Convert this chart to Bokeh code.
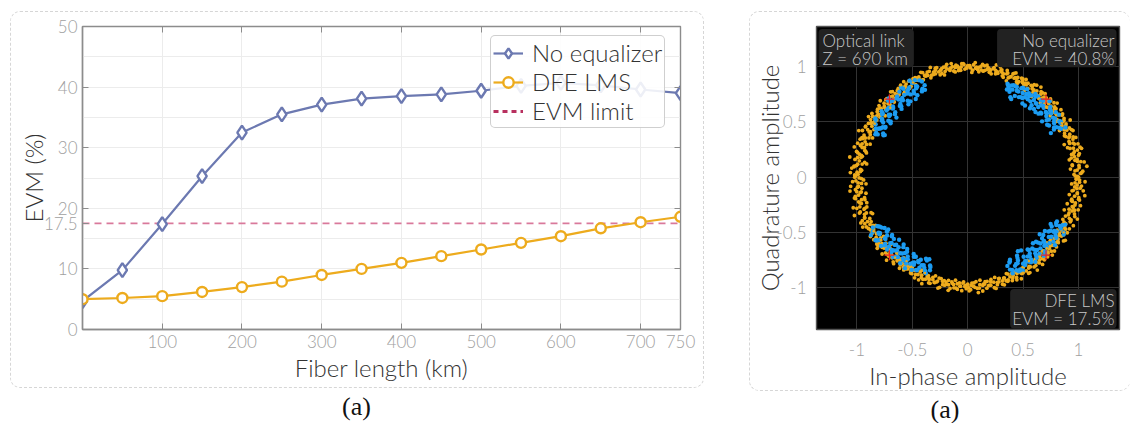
import math
from bokeh.plotting import figure
from bokeh.layouts import row, column
from bokeh.embed import file_html
from bokeh.resources import INLINE
from bokeh.models import (FixedTicker, LinearAxis, Legend, LegendItem, BoxAnnotation, Label, Range1d, Div)

FONT = "Lato Light, Lato"
fiber_km = [0, 50, 100, 150, 200, 250, 300, 350, 400, 450, 500, 550, 600, 650, 700, 750]
evm_none = [4.7, 9.8, 17.4, 25.3, 32.5, 35.5, 37.1, 38.1, 38.5, 38.8, 39.4, 40.2, 40.7, 40.3, 39.6, 39.0]
evm_dfe = [5.0, 5.2, 5.5, 6.2, 7.0, 7.9, 9.0, 10.0, 11.0, 12.1, 13.2, 14.3, 15.4, 16.7, 17.7, 18.6]
evm_limit = [17.5, 17.5]
limit_x = [0, 750]
x_ticks = [100, 200, 300, 400, 500, 600, 700, 750]
y_ticks = [0, 10, 17.5, 20, 30, 40, 50]
y_grid = [5, 10, 15, 20, 25, 30, 35, 40, 45]

# Estimated radius (hundredths of unit amplitude) of the received points, 1.5 degrees apart
orange_r1 = [100,96,104,93,101,106,98,95,103,99,105,94,100,97,102,96,104,99,93,101,
 98,102,96,100,104,97,101,99,95,103,98,100,96,102,105,97,99,101,94,100,
 99,102,97,100,103,98,101,96,100,104,97,102,99,101,98,103,96,100,102,99,
 101,98,103,99,102,97,100,104,98,101,96,103,100,98,102,99,104,97,101,100,
 99,102,96,100,103,95,101,98,104,97,100,102,94,99,103,98,101,96,100,105,
 97,102,95,100,104,93,99,103,96,101,106,94,100,98,103,92,101,105,97,99,
 102,94,99,106,96,101,93,104,98,100,107,95,102,97,92,103,99,105,96,100,
 98,103,94,100,97,102,95,99,104,96,101,93,98,103,97,100,94,102,99,96,
 101,96,99,103,95,100,98,102,94,99,104,97,100,95,102,98,101,96,103,99,
 97,102,99,95,101,104,98,96,100,103,94,99,102,97,101,95,100,103,98,96,
 100,96,103,98,94,101,99,104,97,95,102,100,96,103,98,94,101,99,105,97,
 100,95,103,98,94,101,106,97,99,104,93,100,96,102,107,95,99,103,97,101]
orange_r2 = [97,103,99,108,95,100,93,102,98,106,96,101,92,104,99,95,103,97,100,106,
 101,95,103,98,93,100,105,96,102,99,94,103,100,97,93,104,101,96,99,103,
 102,96,100,104,99,94,103,97,101,99,105,96,100,103,97,101,98,104,95,101,
 99,103,97,101,96,104,99,102,95,100,103,98,105,96,100,103,97,99,102,96,
 102,97,104,99,94,101,97,103,100,95,102,98,105,96,101,93,99,104,97,102,
 100,94,103,98,107,96,101,93,104,99,95,102,97,108,94,100,103,96,106,101,
 96,104,92,100,107,98,103,95,101,94,104,98,108,93,100,105,96,102,94,99,
 101,95,102,93,100,104,97,92,101,98,105,94,102,96,93,103,98,100,96,101,
 97,103,94,100,105,96,102,98,100,95,103,96,99,104,97,94,102,99,95,101,
 103,96,100,105,94,98,102,100,95,104,99,96,103,100,94,102,98,96,104,100,
 96,103,99,93,105,97,101,95,102,100,96,104,98,93,102,99,96,104,100,94,
 103,99,96,105,101,95,103,92,101,98,105,96,102,93,100,105,97,94,106,98]
orange_r3 = [99,102,97,101,95,103,100,98,96,102,99,104,97,101,98,100,96,102,99,97,
 100,97,102,99,98,101,97,103,99,96,101,98,102,97,100,99,103,97,101,98,
 100,98,101,99,102,97,100,99,102,98,100,101,97,99,102,98,100,99,97,101,
 99,102,100,97,100,101,98,100,102,97,99,101,98,102,99,100,97,101,99,102,
 100,97,101,99,96,102,98,100,97,101,99,96,101,98,100,102,97,99,102,98,
 100,98,103,97,96,101,102,98,100,97,96,103,98,101,99,96,103,97,100,102,
 98,101,96,99,102,97,100,103,95,99,101,97,103,99,100,96,102,98,101,97,
 100,97,99,96,102,98,100,97,95,101,98,100,96,99,95,98,100,97,96,99,
 97,100,96,98,101,97,99,96,100,98,95,100,97,99,96,101,97,99,96,98,
 100,98,96,101,98,99,96,100,97,98,101,96,99,97,100,98,96,101,97,99,
 97,100,95,99,101,97,96,99,100,98,95,99,101,97,99,96,100,97,98,101,
 97,100,98,96,101,99,97,102,96,99,100,97,103,98,100,96,102,99,101,98]
blue_ur = [99,94,90,97,93,100,88,95,92,98,86,94,90,96,84,92,97,89,94,87,91,95,85,93,89,92,87,
 95,89,97,92,86,94,99,90,96,88,93,85,97,91,87,95,83,92,89,96,86,94,90,82,93,88,91,85,
 92,98,87,95,90,84,96,92,88,101,93,86,91,97,89,94,83,92,87,95,90,81,93,86,89,92,88,84]
blue_ul = [92,98,88,95,102,90,96,93,86,99,91,94,88,97,100,92,87,95,90,96,85,93,98,89,91,86,92,
 96,90,100,93,87,97,91,99,94,85,92,96,89,101,93,88,95,90,98,86,94,91,87,96,92,84,90,88,
 89,94,99,92,85,95,101,88,93,97,90,86,98,92,95,84,91,96,88,93,99,87,90,94,85,92,89,95]
blue_ll = [97,91,102,94,88,98,93,100,87,95,90,97,92,86,96,89,99,93,85,94,91,88,96,90,84,93,87,
 93,99,88,95,101,90,86,96,92,98,89,94,84,97,91,87,95,92,100,86,93,89,96,83,91,94,88,92,
 90,95,86,100,93,87,97,91,84,95,89,99,92,85,94,90,96,87,92,98,86,93,89,82,95,91,86,93]
blue_lr = [88,93,84,97,90,86,95,92,82,94,89,96,87,91,99,85,93,90,95,86,92,97,89,94,100,91,96,
 92,86,95,90,98,84,93,88,96,91,85,94,89,99,92,87,95,90,83,97,93,88,92,101,86,94,90,96,
 85,91,96,88,93,81,94,90,98,86,92,95,84,97,89,93,87,100,91,85,95,92,88,96,90,98,87,93]
# Start angle (degrees) of each blue arc, points 1.5 degrees apart, three passes per arc
blue_start = [27, 115, 208, 294]
ideal_points = [0.707, -0.707]

ORANGE = "#edab1d"
BLUE = "#6c79b1"
SKY = "#1c9cf2"
PANEL = "#d6d6d6"
PANEL_CSS = {"border": f"1px dashed {PANEL}", "border-radius": "10px", "box-sizing": "border-box"}


def polar(radii, start, step):
    a = [math.radians(start + i * step) for i in range(len(radii))]
    return ([r / 100 * math.cos(t) for r, t in zip(radii, a)],
            [r / 100 * math.sin(t) for r, t in zip(radii, a)])


def caption(width, pad, margin):
    return Div(text="(a)", width=width, height=30, margin=margin,
               styles={"font-family": "Liberation Serif", "font-size": "26px", "color": "#111111",
                       "text-align": "center", "padding-left": f"{pad}px", "box-sizing": "border-box"})


# ---------- left chart ----------
p1 = figure(frame_width=596, frame_height=301, min_border_left=71, min_border_right=25,
            min_border_top=14, min_border_bottom=60, output_backend="svg", toolbar_location=None,
            x_range=Range1d(0, 750), y_range=Range1d(0, 50), background_fill_color="white",
            border_fill_color=None, outline_line_color="#8c8c8c", outline_line_width=1.4,
            margin=(11, 0, 0, 10), styles=PANEL_CSS)
p1.xaxis.ticker = FixedTicker(ticks=x_ticks)
p1.yaxis.ticker = FixedTicker(ticks=y_ticks)
p1.yaxis.major_label_overrides = {0: "0", 10: "10", 17.5: "17.5", 20: "20", 30: "30", 40: "40", 50: "50"}
p1.xaxis.axis_label = "Fiber length (km)"
p1.yaxis.axis_label = "EVM (%)"
p1.xgrid.ticker = FixedTicker(ticks=[100, 200, 300, 400, 500, 600, 700])
p1.ygrid.ticker = FixedTicker(ticks=y_grid)
for g in (p1.xgrid, p1.ygrid):
    g.grid_line_color = "#ececec"
    g.grid_line_width = 1
for ax in (p1.xaxis[0], p1.yaxis[0]):
    ax.axis_line_color = "#8c8c8c"
    ax.axis_line_width = 1.4
    ax.major_tick_line_color = "#8c8c8c"
    ax.major_tick_in = 6
    ax.major_tick_out = 0
    ax.minor_tick_line_color = None
    ax.major_label_text_font = FONT
    ax.major_label_text_font_size = "17px"
    ax.major_label_text_color = "#a0a0a0"
    ax.axis_label_text_font = FONT
    ax.axis_label_text_font_size = "24px"
    ax.axis_label_text_font_style = "normal"
    ax.axis_label_text_color = "#333333"
p1.xaxis.major_label_standoff = 5
p1.yaxis.major_label_standoff = 5
p1.xaxis.axis_label_standoff = 2
p1.yaxis.axis_label_standoff = -7
for side, tk in (("above", x_ticks), ("right", [10, 20, 30, 40])):
    m = LinearAxis(ticker=FixedTicker(ticks=tk), major_label_overrides={t: "" for t in tk},
                   major_label_standoff=0, major_tick_in=6, major_tick_out=0,
                   major_tick_line_color="#8c8c8c", minor_tick_line_color=None,
                   axis_line_color="#8c8c8c")
    p1.add_layout(m, side)

p1.line(limit_x, evm_limit, line_color="#d9799b", line_width=1.8, line_dash="7 5")
l_none = p1.line(fiber_km, evm_none, line_color=BLUE, line_width=2.2)
m_none = p1.scatter(fiber_km, evm_none, marker="diamond", size=14, fill_color="white",
                    line_color=BLUE, line_width=2.4)
l_dfe = p1.line(fiber_km, evm_dfe, line_color=ORANGE, line_width=2.2)
m_dfe = p1.scatter(fiber_km, evm_dfe, marker="circle", size=10, fill_color="white",
                   line_color=ORANGE, line_width=2.4)
l_lim = p1.line(limit_x, [float("nan"), float("nan")], line_color="#b8305f", line_width=3, line_dash="5 4")
leg = Legend(items=[LegendItem(label="No equalizer", renderers=[l_none, m_none]),
                    LegendItem(label="DFE LMS", renderers=[l_dfe, m_dfe]),
                    LegendItem(label="EVM limit", renderers=[l_lim])],
             location=(408, 201), label_text_font=FONT, label_text_font_size="24px",
             label_text_color="#333333", label_height=27, glyph_height=26, glyph_width=30,
             label_standoff=9, spacing=-2, padding=2, margin=0,
             background_fill_color="white", background_fill_alpha=0.88,
             border_line_color="#a0a0a0", border_line_width=1.2)
if hasattr(leg, "border_radius"):
    leg.border_radius = 5
p1.add_layout(leg)

# ---------- right chart ----------
p2 = figure(frame_width=302, frame_height=301, min_border_left=66, min_border_right=12,
            min_border_top=14, min_border_bottom=60, output_backend="svg", toolbar_location=None,
            x_range=Range1d(-1.365, 1.37), y_range=Range1d(-1.38, 1.365),
            background_fill_color="black", border_fill_color=None,
            outline_line_color="#555555", outline_line_width=1.4,
            margin=(11, 0, 0, 45), styles={**PANEL_CSS, "border-right": "none"})
ticks2 = [-1, -0.5, 0, 0.5, 1]
labels2 = {-1: "-1", -0.5: "-0.5", 0: "0", 0.5: "0.5", 1: "1"}
for ax in (p2.xaxis[0], p2.yaxis[0]):
    ax.ticker = FixedTicker(ticks=ticks2)
    ax.major_label_overrides = labels2
    ax.axis_line_color = None
    ax.major_tick_line_color = None
    ax.minor_tick_line_color = None
    ax.major_label_text_font = FONT
    ax.major_label_text_font_size = "17px"
    ax.major_label_text_color = "#a0a0a0"
    ax.axis_label_text_font = FONT
    ax.axis_label_text_font_size = "24px"
    ax.axis_label_text_font_style = "normal"
    ax.axis_label_text_color = "#333333"
p2.xaxis.axis_label = "In-phase amplitude"
p2.yaxis.axis_label = "Quadrature amplitude"
p2.xaxis.major_label_standoff = 7
p2.yaxis.major_label_standoff = 4
p2.xaxis.axis_label_standoff = 2
p2.yaxis.axis_label_standoff = -10
for g in (p2.xgrid, p2.ygrid):
    g.ticker = FixedTicker(ticks=ticks2)
    g.grid_line_color = "#333333"
    g.grid_line_width = 1

ox1, oy1 = polar(orange_r1, 0, 1.5)
ox2, oy2 = polar(orange_r2, 0.75, 1.5)
ox3, oy3 = polar(orange_r3, 0.4, 1.5)
p2.scatter(ox1 + ox2 + ox3, oy1 + oy2 + oy3, marker="circle", size=3.8, fill_color=ORANGE, line_color=None)
for radii, start in zip((blue_ur, blue_ul, blue_ll, blue_lr), blue_start):
    for k in range(3):
        bx, by = polar(radii[k * 27:(k + 1) * 27], start + k * 0.5, 1.5)
        p2.scatter(bx, by, marker="circle", size=4.4, fill_color=SKY, line_color=None)
p2.scatter(ox1[::4], oy1[::4], marker="circle", size=2.4, fill_color=ORANGE, line_color=None)
p2.scatter([ideal_points[0], ideal_points[0], ideal_points[1], ideal_points[1]],
           [ideal_points[0], ideal_points[1], ideal_points[0], ideal_points[1]],
           marker="cross", size=10, line_color="#ee2222", line_width=1.2)

for l, r, t, b in ((-1.347, -0.486, 1.342, 0.995), (0.265, 1.343, 1.342, 0.995), (0.383, 1.343, -1.014, -1.37)):
    p2.add_layout(BoxAnnotation(left=l, right=r, top=t, bottom=b, fill_color="#222222", fill_alpha=1,
                                line_color=None, border_radius=4))
for x, y, s, al in ((-1.31, 1.24, "Optical link", "left"), (-1.31, 1.078, "Z = 690 km", "left"),
                    (1.325, 1.24, "No equalizer", "right"), (1.325, 1.078, "EVM = 40.8%", "right"),
                    (1.325, -1.114, "DFE LMS", "right"), (1.325, -1.279, "EVM = 17.5%", "right")):
    p2.add_layout(Label(x=x, y=y, text=s, text_font=FONT, text_font_size="17px", text_color="#c8c8c8",
                        text_align=al, text_baseline="middle"))
p2.scatter([0.345], [1.255], marker="circle", size=8, fill_color=ORANGE, line_color=None)
p2.scatter([0.59], [-1.09], marker="circle", size=8, fill_color=SKY, line_color=None)

col1 = column(p1, caption(693, 0, (0, 0, 0, 10)), spacing=0)
col2 = column(p2, caption(374, 18, (0, 0, 0, 45)), spacing=0)
layout = row(col1, col2, spacing=0)
open("out.html", "w").write(file_html(layout, INLINE))
